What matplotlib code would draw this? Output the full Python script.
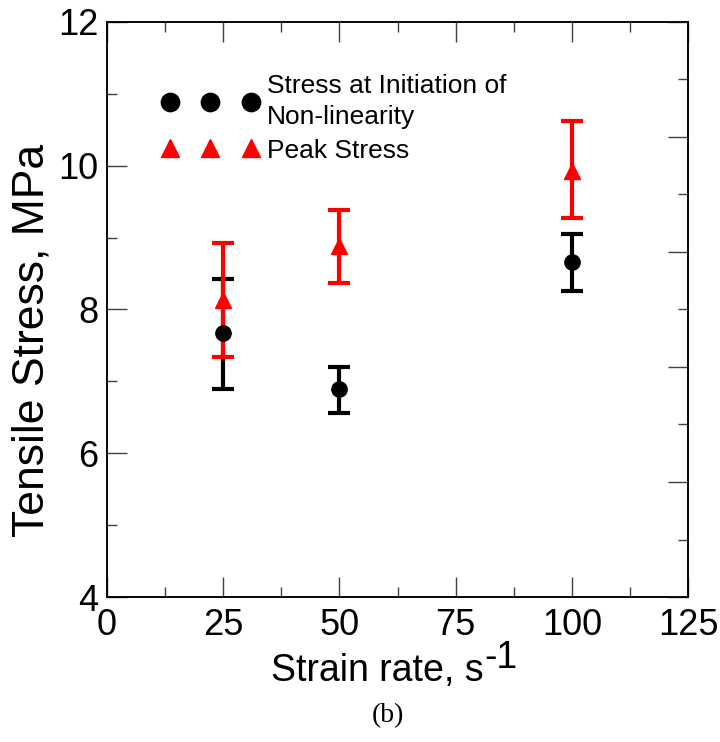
import matplotlib
matplotlib.use('Agg')
import matplotlib.pyplot as plt
from matplotlib.ticker import MultipleLocator, NullFormatter
import numpy as np

plt.rcParams['font.family'] = ['Liberation Sans', 'DejaVu Sans']

# strain rate, s-1
rate = np.array([25, 50, 100])

# stress at initiation of non-linearity (MPa) with error bar ends
init_mean = np.array([7.67, 6.89, 8.66])
init_low = np.array([6.90, 6.56, 8.26])
init_high = np.array([8.43, 7.20, 9.05])

# peak stress (MPa) with error bar ends
peak_mean = np.array([8.13, 8.88, 9.92])
peak_low = np.array([7.34, 8.37, 9.27])
peak_high = np.array([8.93, 9.39, 10.62])

fig = plt.figure(figsize=(7.2, 7.42), dpi=100)
ax = fig.add_axes([0.1486, 0.1954, 0.8070, 0.7750])

ax.errorbar(rate, init_mean, yerr=[init_mean - init_low, init_high - init_mean],
            fmt='none', ecolor='k', elinewidth=3, capsize=8, capthick=3, zorder=2)
ax.errorbar(rate, peak_mean, yerr=[peak_mean - peak_low, peak_high - peak_mean],
            fmt='none', ecolor='r', elinewidth=3, capsize=8, capthick=3, zorder=3)
ax.plot(rate, peak_mean, '^', color='r', markersize=11, zorder=4, label='Peak Stress')
ax.plot(rate, init_mean, 'o', color='k', markersize=11, zorder=5,
        label='Stress at Initiation of\nNon-linearity')

ax.set_xlim(0, 125)
ax.set_ylim(4, 12)
ax.xaxis.set_major_locator(MultipleLocator(25))
ax.xaxis.set_minor_locator(MultipleLocator(12.5))
ax.yaxis.set_major_locator(MultipleLocator(2))
ax.yaxis.set_minor_locator(MultipleLocator(1))
ax.tick_params(which='both', direction='in', top=True, right=False, width=1.0, color='0.25')
ax.tick_params(which='major', length=14.5)
ax.tick_params(which='minor', length=7.2)
ax.tick_params(axis='x', labelsize=26, pad=8)
ax.tick_params(axis='y', labelsize=26, pad=6)
for s in ax.spines.values():
    s.set_linewidth(1.1)

# right-hand axis has its own tick spacing (no labels)
ax2 = ax.twinx()
ax2.set_ylim(0, 10)
ax2.yaxis.set_major_locator(MultipleLocator(2))
ax2.yaxis.set_minor_locator(MultipleLocator(1))
ax2.yaxis.set_major_formatter(NullFormatter())
ax2.tick_params(which='both', direction='in', width=1.0, color='0.25')
ax2.tick_params(which='major', length=14.5)
ax2.tick_params(which='minor', length=7.2)
for s in ax2.spines.values():
    s.set_linewidth(1.1)

ax.set_xlabel('Strain rate, s', fontsize=27, labelpad=7)
ax.xaxis.label.set_x(0.466)
ax.annotate('-1', xy=(1, 0.35), xycoords=ax.xaxis.label, fontsize=27,
            ha='left', va='bottom')
ax.set_ylabel('Tensile Stress, MPa', fontsize=32, labelpad=4)
ax.yaxis.label.set_y(0.447)

h, l = ax.get_legend_handles_labels()
leg = ax.legend(h[::-1], l[::-1], loc='upper left', bbox_to_anchor=(0.094, 0.91),
                frameon=False, fontsize=19, numpoints=3, handlelength=3.7,
                handletextpad=0.3, labelspacing=0.35, markerscale=1.2,
                borderpad=0, borderaxespad=0)
for t in leg.get_texts():
    t.set_linespacing(1.4)

fig.text(0.539, 0.036, '(b)', fontsize=20, family='Liberation Serif',
         ha='center', va='center')

fig.savefig('out.png', dpi=100)
